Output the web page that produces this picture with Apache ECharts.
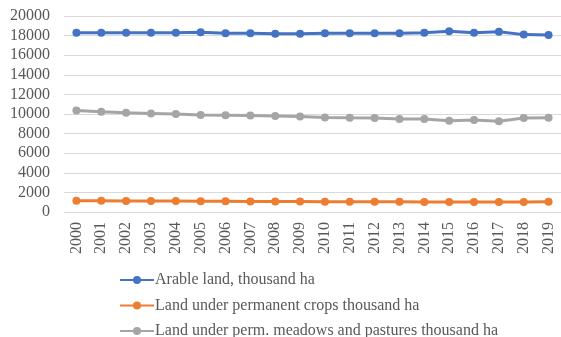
<!DOCTYPE html>
<html>
<head>
<meta charset="utf-8">
<script src="https://cdn.jsdelivr.net/npm/echarts@6/dist/echarts.min.js"></script>
<style>
  html, body { margin: 0; padding: 0; background: #fff; }
  #chart { width: 561px; height: 337px; }
</style>
</head>
<body>
<div id="chart"></div>
<script>
// Years on the category axis
const years = ['2000','2001','2002','2003','2004','2005','2006','2007','2008','2009',
               '2010','2011','2012','2013','2014','2015','2016','2017','2018','2019'];

// Land use, thousand ha
const arableLand = [18300, 18300, 18300, 18300, 18300, 18350, 18250, 18250, 18200, 18200,
                    18250, 18250, 18250, 18250, 18300, 18450, 18300, 18400, 18100, 18050];
const permanentCrops = [1150, 1140, 1130, 1120, 1110, 1100, 1090, 1080, 1070, 1060,
                        1050, 1050, 1040, 1040, 1030, 1030, 1030, 1030, 1030, 1040];
const meadowsPastures = [10350, 10230, 10120, 10060, 10000, 9900, 9880, 9850, 9800, 9750,
                         9650, 9620, 9600, 9500, 9480, 9300, 9380, 9250, 9600, 9620];

const seriesNames = [
  'Arable land, thousand ha',
  'Land under permanent crops thousand ha',
  'Land under perm. meadows and pastures thousand ha'
];
const seriesColors = ['#4472C4', '#ED7D31', '#A5A5A5'];

const textFont = '"Liberation Serif", "Times New Roman", serif';

function lineSeries(name, data, color) {
  return {
    name: name,
    type: 'line',
    data: data,
    symbol: 'circle',
    symbolSize: 8,
    lineStyle: { color: color, width: 3 },
    itemStyle: { color: color },
    emphasis: { disabled: true }
  };
}

// One legend block per row, stacked under the axis
function legendRow(name, top) {
  return {
    orient: 'horizontal',
    left: 114,
    top: top,
    itemWidth: 34,
    itemHeight: 10,
    textStyle: { color: '#595959', fontFamily: textFont, fontSize: 16, padding: [0, 0, 0, -4] },
    data: [name]
  };
}

const chart = echarts.init(document.getElementById('chart'), null, { renderer: 'canvas' });
chart.setOption({
  animation: false,
  backgroundColor: '#ffffff',
  grid: { left: 64, right: -5, top: 16, bottom: 125, containLabel: false },
  xAxis: {
    type: 'category',
    data: years,
    boundaryGap: true,
    axisLine: { show: false },
    axisTick: { show: false },
    axisLabel: {
      rotate: 90,
      margin: 10,
      color: '#595959',
      fontFamily: textFont,
      fontSize: 16
    }
  },
  yAxis: {
    type: 'value',
    min: 0,
    max: 20000,
    interval: 2000,
    axisLine: { show: false },
    axisTick: { show: false },
    splitLine: { lineStyle: { color: '#D9D9D9', width: 1 } },
    axisLabel: {
      margin: 14,
      color: '#595959',
      fontFamily: textFont,
      fontSize: 16,
      formatter: (v) => String(v)
    }
  },
  legend: [
    legendRow(seriesNames[0], 267),
    legendRow(seriesNames[1], 292.5),
    legendRow(seriesNames[2], 318)
  ],
  series: [
    lineSeries(seriesNames[0], arableLand, seriesColors[0]),
    lineSeries(seriesNames[1], permanentCrops, seriesColors[1]),
    lineSeries(seriesNames[2], meadowsPastures, seriesColors[2])
  ]
});
</script>
</body>
</html>
